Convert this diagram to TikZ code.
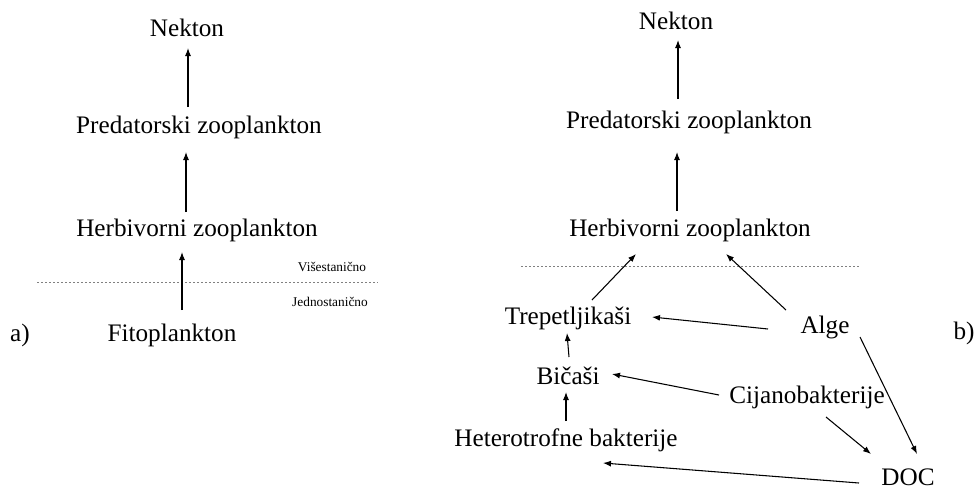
\documentclass[tikz,border=0pt]{standalone}
\usepackage{fontspec}
\setmainfont{Liberation Serif}
\usetikzlibrary{arrows.meta,calc}

\begin{document}
\begin{tikzpicture}[x=0.75pt,y=-0.75pt,
	lbl/.style={font=\fontsize{18.9}{22}\selectfont, inner sep=0pt, text height=12.9pt, text depth=3.8pt},
	sml/.style={font=\fontsize{10}{12}\selectfont, inner sep=0pt},
	arr/.style={-{Latex[length=6pt,width=4.5pt]}, line width=0.8pt},
	sep/.style={gray, line width=0.6pt, dash pattern=on 1.5pt off 1.5pt}]
		\useasboundingbox (0,0) rectangle (975,490);

		% a) classical chain
		\node[lbl] (nekA) at (187,30) {Nekton};
		\node[lbl] (predA) at (199,127) {Predatorski zooplankton};
		\node[lbl] (herbA) at (197,230) {Herbivorni zooplankton};
		\node[lbl] (fito) at (172,335) {Fitoplankton};
		\node[lbl] (labA) at (20,335) {a)};
		\node[sml] (visA) at (332,267) {Višestanično};
		\node[sml] (jedA) at (330,302) {Jednostanično};
		\coordinate (sepA1) at (37,282);
		\coordinate (sepA2) at (378,282);
		\draw[sep] (sepA1) -- (sepA2);
		\draw[arr] ($(predA)+(-11,-20)$) -- ($(nekA)+(1,18)$);
		\draw[arr] ($(herbA)+(-11,-18)$) -- ($(predA)+(-13,25)$);
		\draw[arr] ($(fito)+(10,-25)$) -- ($(herbA)+(-15,22)$);

		% b) microbial loop
		\node[lbl] (nekB) at (676,23) {Nekton};
		\node[lbl] (predB) at (689,122) {Predatorski zooplankton};
		\node[lbl] (herbB) at (690,230) {Herbivorni zooplankton};
		\node[lbl] (trep) at (568,318) {Trepetljikaši};
		\node[lbl] (alge) at (825,327) {Alge};
		\node[lbl] (bic) at (568,378) {Bičaši};
		\node[lbl] (cij) at (807,397) {Cijanobakterije};
		\node[lbl] (het) at (566,440) {Heterotrofne bakterije};
		\node[lbl] (doc) at (908,479) {DOC};
		\node[lbl] (labB) at (964,333) {b)};
		\coordinate (sepB1) at (521,266);
		\coordinate (sepB2) at (861,266);
		\draw[sep] (sepB1) -- (sepB2);
		\draw[arr] ($(predB)+(-11,-23)$) -- ($(nekB)+(2,17)$);
		\draw[arr] ($(herbB)+(-13,-19)$) -- ($(predB)+(-12,30)$);
		\draw[arr] ($(trep)+(24,-18)$) -- ($(herbB)+(-54,24)$);
		\draw[arr] ($(alge)+(-39,-17)$) -- ($(herbB)+(36,24)$);
		\draw[arr] ($(alge)+(-57,2)$) -- ($(trep)+(84,-1)$);
		\draw[arr] ($(bic)+(1,-21)$) -- ($(trep)+(-1,15)$);
		\draw[arr] ($(het)+(0,-19)$) -- ($(bic)+(-2,14)$);
		\draw[arr] ($(cij)+(-88,-2)$) -- ($(bic)+(44,-4)$);
		\draw[arr] ($(cij)+(19,20)$) -- ($(doc)+(-37,-25)$);
		\draw[arr] ($(alge)+(35,10)$) -- ($(doc)+(9,-25)$);
		\draw[arr] ($(doc)+(-49,4)$) -- ($(het)+(37,23)$);
	\end{tikzpicture}
\end{document}
